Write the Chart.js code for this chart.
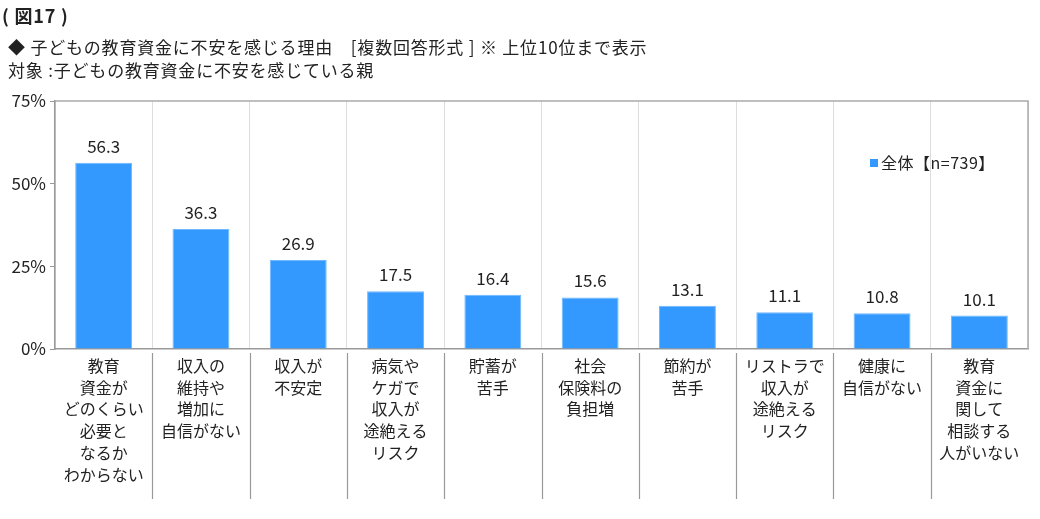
<!DOCTYPE html>
<html><head><meta charset="utf-8">
<script src="https://cdn.jsdelivr.net/npm/chart.js@4"></script>
<style>
html,body{margin:0;padding:0;background:#fff;}
#wrap{position:relative;width:1040px;height:519px;font-family:"Noto Sans CJK JP","Noto Sans",sans-serif;color:#222;}
canvas{position:absolute;left:0;top:0;}
.t{position:absolute;white-space:pre;font-size:17px;line-height:20px;letter-spacing:0.8px;}
#legend{position:absolute;left:870px;top:152px;font-size:16px;line-height:20px;color:#222;letter-spacing:0.5px;}
#legend span.sq{display:inline-block;width:8px;height:8px;background:rgb(51,153,255);margin-right:3px;vertical-align:2px;}
</style></head>
<body><div id="wrap">
<canvas id="c" width="1040" height="519"></canvas>
<div class="t" style="left:2px;top:5px;font-weight:bold;font-size:18px;">( 図17 )</div>
<div class="t" style="left:8px;top:37px;">◆ 子どもの教育資金に不安を感じる理由　[複数回答形式 ] ※ 上位10位まで表示</div>
<div class="t" style="left:8px;top:60px;">対象 :子どもの教育資金に不安を感じている親</div>
<div id="legend"><span class="sq"></span>全体【n=739】</div>
</div>
<script>
const categories = [
  ["教育","資金が","どのくらい","必要と","なるか","わからない"],
  ["収入の","維持や","増加に","自信がない"],
  ["収入が","不安定"],
  ["病気や","ケガで","収入が","途絶える","リスク"],
  ["貯蓄が","苦手"],
  ["社会","保険料の","負担増"],
  ["節約が","苦手"],
  ["リストラで","収入が","途絶える","リスク"],
  ["健康に","自信がない"],
  ["教育","資金に","関して","相談する","人がいない"]
];
const values = [56.3, 36.3, 26.9, 17.5, 16.4, 15.6, 13.1, 11.1, 10.8, 10.1];
const yTicks = [0, 25, 50, 75];

const FONT = '"Noto Sans CJK JP","Noto Sans",sans-serif';

const extras = {
  id: 'extras',
  afterDatasetsDraw(chart) {
    const ctx = chart.ctx;
    const meta = chart.getDatasetMeta(0);
    ctx.save();
    ctx.fillStyle = '#222';
    ctx.font = '17px ' + FONT;
    ctx.textAlign = 'center';
    ctx.textBaseline = 'bottom';
    meta.data.forEach((el, i) => {
      ctx.fillText(values[i].toFixed(1), el.x, el.y - 8);
    });
    const a = chart.chartArea;
    const xs = chart.scales.x;
    ctx.strokeStyle = '#aaa';
    ctx.lineWidth = 1.5;
    ctx.beginPath();
    ctx.moveTo(a.left, a.top); ctx.lineTo(a.right, a.top); ctx.lineTo(a.right, a.bottom);
    ctx.stroke();
    ctx.strokeStyle = '#999';
    ctx.lineWidth = 1.2;
    for (let i = 1; i < categories.length; i++) {
      const x = Math.round(xs.getPixelForValue(i - 0.5)) + 0.5;
      ctx.beginPath();
      ctx.moveTo(x, a.bottom + 4);
      ctx.lineTo(x, a.bottom + 150);
      ctx.stroke();
    }
    ctx.restore();
  }
};

new Chart(document.getElementById('c'), {
  type: 'bar',
  data: {
    labels: categories,
    datasets: [{
      label: '全体【n=739】',
      data: values,
      backgroundColor: 'rgb(51,153,255)',
      borderColor: 'rgb(110,185,255)',
      borderWidth: 1,
      barPercentage: 0.585,
      categoryPercentage: 1.0
    }]
  },
  options: {
    responsive: false,
    animation: false,
    devicePixelRatio: 1,
    layout: { padding: { top: 101, right: 12, left: 0, bottom: 0 } },
    plugins: { legend: { display: false }, tooltip: { enabled: false } },
    scales: {
      x: {
        afterFit(s) { s.height = 170; },
        grid: { offset: true, color: '#ddd', drawTicks: false, lineWidth: 1 },
        border: { color: '#999', width: 1.5 },
        ticks: {
          color: '#222', padding: 6, maxRotation: 0, autoSkip: false,
          font: { size: 16, family: FONT, lineHeight: 1.36 }
        }
      },
      y: {
        min: 0, max: 75,
        afterFit(s) { s.width = 55; },
        afterBuildTicks(s) { s.ticks = yTicks.map(v => ({ value: v })); },
        grid: { drawOnChartArea: false, drawTicks: true, tickLength: 5, color: '#999' },
        border: { color: '#999', width: 1.5 },
        ticks: {
          color: '#222', padding: 4,
          font: { size: 17, family: FONT },
          callback: v => v + '%'
        }
      }
    }
  },
  plugins: [extras]
});
</script>
</body></html>
